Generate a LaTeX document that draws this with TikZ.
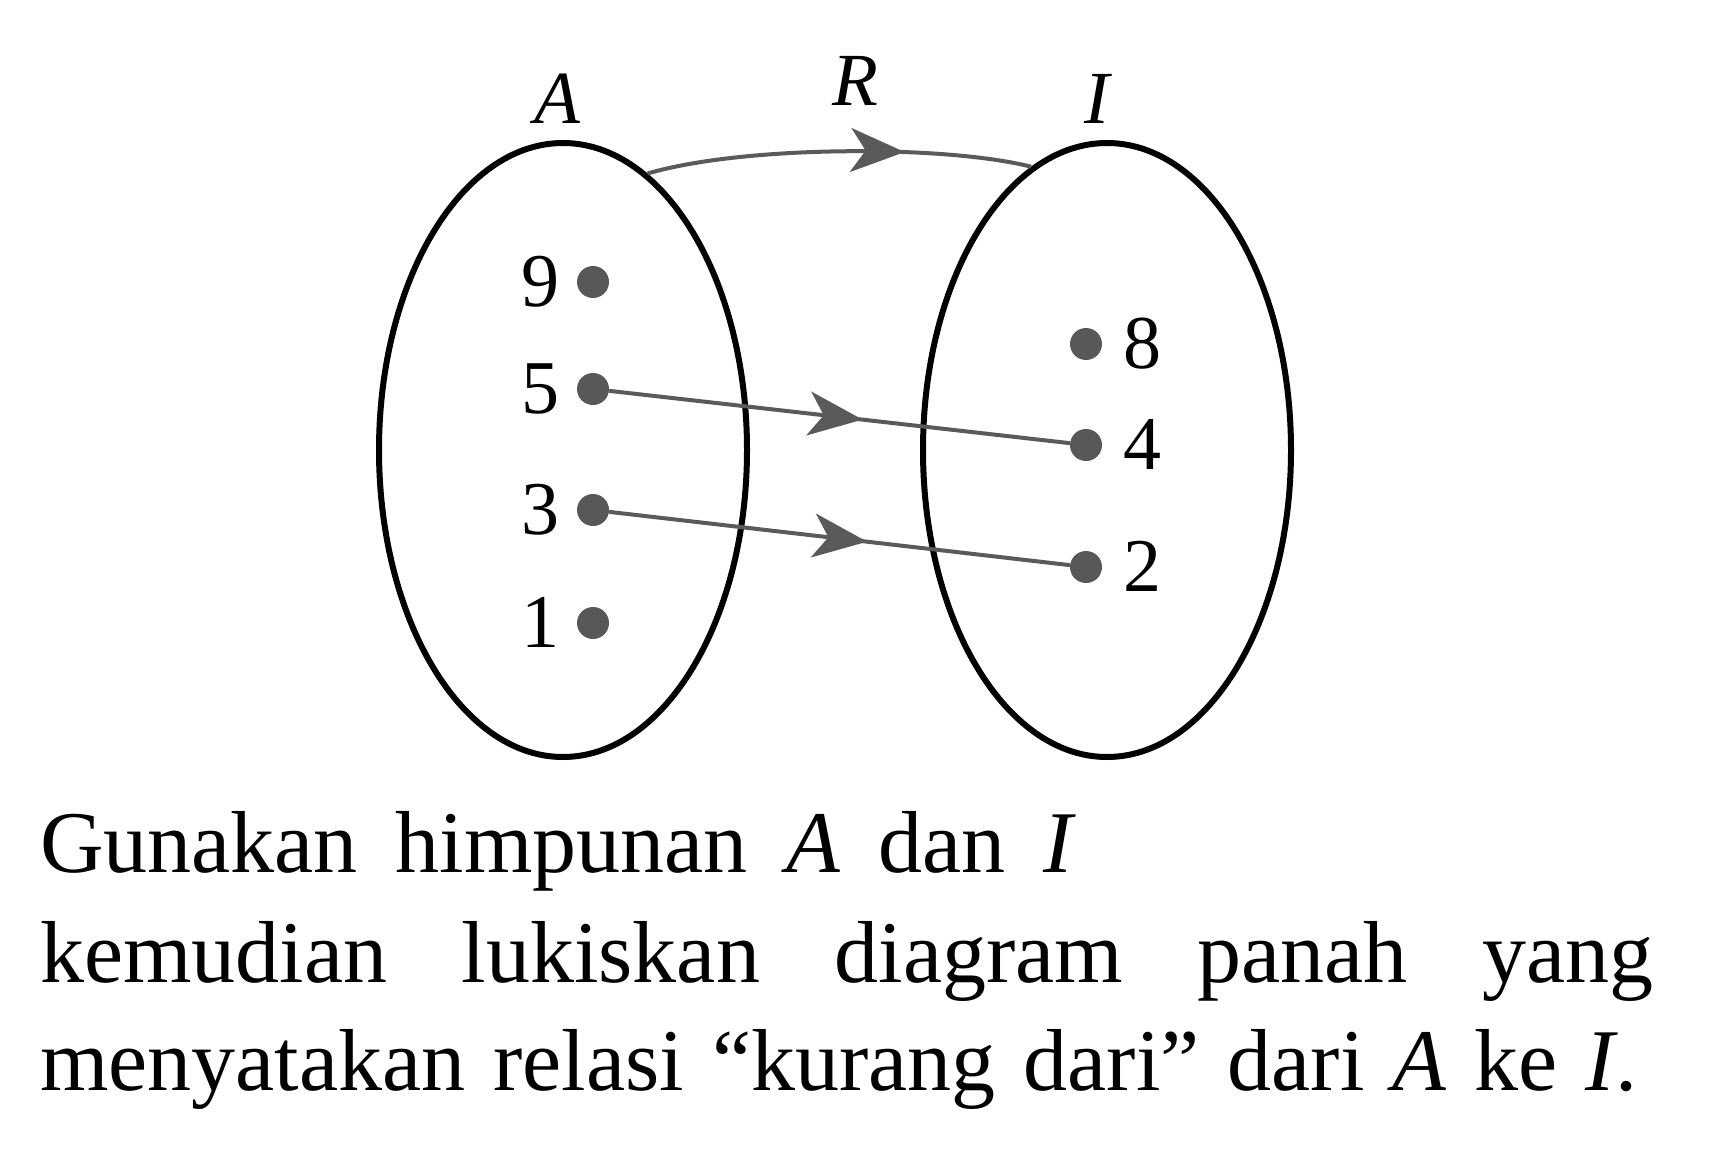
\documentclass[tikz,border=0pt]{standalone}
\usepackage{fontspec}
\setmainfont{Liberation Serif}
\usetikzlibrary{arrows.meta,decorations.markings,shapes.geometric}
\definecolor{ink}{HTML}{5A5A5A}
\definecolor{dotc}{HTML}{585858}
\tikzset{
  setshape/.style={ellipse, draw=black, line width=6pt, minimum width=368pt, minimum height=614pt, inner sep=0pt},
  dotnode/.style={circle, fill=dotc, minimum size=32pt, inner sep=0pt},
  numlabel/.style={font=\fontsize{76}{80}\selectfont, anchor=base, inner sep=0pt},
  setlabel/.style={font=\fontsize{75}{80}\selectfont\itshape, anchor=base, inner sep=0pt},
  txt/.style={font=\fontsize{88}{100}\selectfont, anchor=base west, inner sep=0pt},
  conn/.style={draw=ink, line width=4pt},
  marked/.style={postaction={decorate}, decoration={markings, mark=at position #1 with {\arrow[ink]{Stealth[length=54pt, width=44pt, inset=15pt]}}}}
}
\begin{document}
\begin{tikzpicture}[x=1pt, y=-1pt]
\useasboundingbox (0,0) rectangle (1717,1156);
% sets
\node[setshape] (setA) at (563,450) {};
\node[setshape] (setI) at (1107,450) {};
% set labels
\node[setlabel] (labA) at (557,124) {A};
\node[setlabel] (labR) at (855,106) {R};
\node[setlabel] (labI) at (1097,124) {I};
% dots of A
\node[dotnode] (a9) at (593,282) {};
\node[dotnode] (a5) at (593,389) {};
\node[dotnode] (a3) at (593,510) {};
\node[dotnode] (a1) at (593,623) {};
\node[numlabel] (n9) at (540,306) {9};
\node[numlabel] (n5) at (540,413) {5};
\node[numlabel] (n3) at (540,534) {3};
\node[numlabel] (n1) at (540,647) {1};
% dots of I
\node[dotnode] (i8) at (1086,344) {};
\node[dotnode] (i4) at (1086,445) {};
\node[dotnode] (i2) at (1086,567) {};
\node[numlabel] (n8) at (1142,368) {8};
\node[numlabel] (n4) at (1142,469) {4};
\node[numlabel] (n2) at (1142,591) {2};
% connectors
\draw[conn, marked=0.55] (a5) -- (i4);
\draw[conn, marked=0.56] (a3) -- (i2);
\draw[conn, marked=0.67] (setA.73) .. controls (745,145) and (945,145) .. (setI.105);
% text
\node[txt] (t1) at (40,872) {\hbox to 1036pt{Gunakan\hfill himpunan\hfill \textit{A}\hfill dan\hfill \textit{I}}};
\node[txt] (t2) at (40,982) {\hbox to 1613pt{kemudian\hfill lukiskan\hfill diagram\hfill panah\hfill yang}};
\node[txt] (t3) at (40,1090) {\hbox to 1597pt{menyatakan\hfill relasi\hfill “kurang\hfill dari”\hfill dari\hfill \textit{A}\hfill ke\hfill \textit{I}.}};
\end{tikzpicture}
\end{document}
